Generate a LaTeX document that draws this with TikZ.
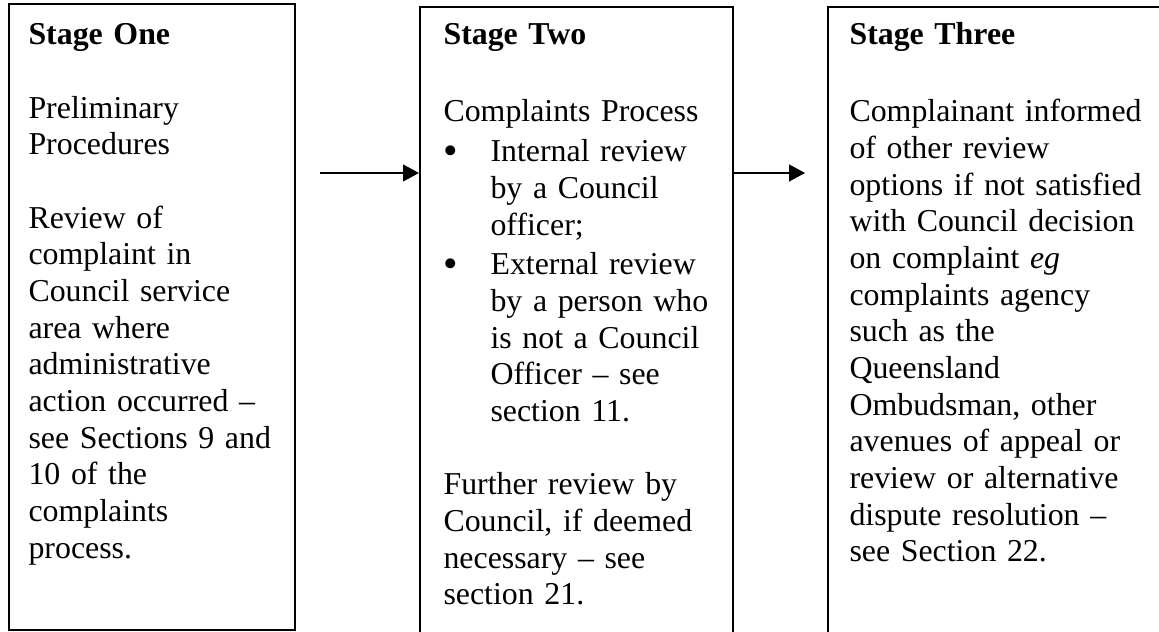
\documentclass[tikz,border=0pt]{standalone}
\usepackage{fontspec}
\usepackage{graphicx}
\setmainfont{Liberation Serif}
\usetikzlibrary{arrows.meta,fit}

\begin{document}
\begin{tikzpicture}[x=0.3766pt, y=-0.3766pt,
        stagebox/.style={draw, inner sep=0pt, line width=0.8pt},
        stagetext/.style={anchor=base west, align=left, text width=300pt, inner sep=0pt, font=\fontsize{12}{13.8}\selectfont},
        >={Triangle[length=6pt, width=6.4pt]}]
        \useasboundingbox (0,0) rectangle (1159,632);
        \node[stagebox, line width=0.5pt, fit={(9,4) (295,630)}] (one) {};
        \node[stagebox, fit={(420,7) (733,645)}] (two) {};
        \node[stagebox, fit={(828,7) (1175,645)}] (three) {};
        \node[stagetext] (onetext) at (28,45) {\textbf{Stage One}\\[13.8pt] Preliminary\\ Procedures\\[13.8pt] Review of\\ complaint in\\ Council service\\ area where\\ administrative\\ action occurred –\\ see Sections 9 and\\ 10 of the\\ complaints\\ process.};
        \node[stagetext] (twotext) at (443,45) {\textbf{Stage Two}\\[15.2pt] Complaints Process\\[1.2pt] \makebox[17.7pt][l]{\raisebox{-1pt}{\scalebox{1.3}{•}}}Internal review\\ \hspace*{17.7pt}by a Council\\ \hspace*{17.7pt}officer;\\[1.2pt] \makebox[17.7pt][l]{\raisebox{-1pt}{\scalebox{1.3}{•}}}External review\\ \hspace*{17.7pt}by a person who\\ \hspace*{17.7pt}is not a Council\\ \hspace*{17.7pt}Officer – see\\ \hspace*{17.7pt}section 11.\\[13.8pt] Further review by\\ Council, if deemed\\ necessary – see\\ section 21.};
        \node[stagetext] (threetext) at (849,45) {\textbf{Stage Three}\\[15.2pt] Complainant informed\\ of other review\\ options if not satisfied\\ with Council decision\\ on complaint \textit{eg}\\ complaints agency\\ such as the\\ Queensland\\ Ombudsman, other\\ avenues of appeal or\\ review or alternative\\ dispute resolution –\\ see Section 22.};
        \coordinate (start) at (320,173);
        \coordinate (stop) at (805,173);
        \draw[->, line width=0.4pt] (start) -- (start -| two.west);
        \draw[->, line width=0.4pt] (two.east |- stop) -- (stop);
    \end{tikzpicture}
\end{document}
